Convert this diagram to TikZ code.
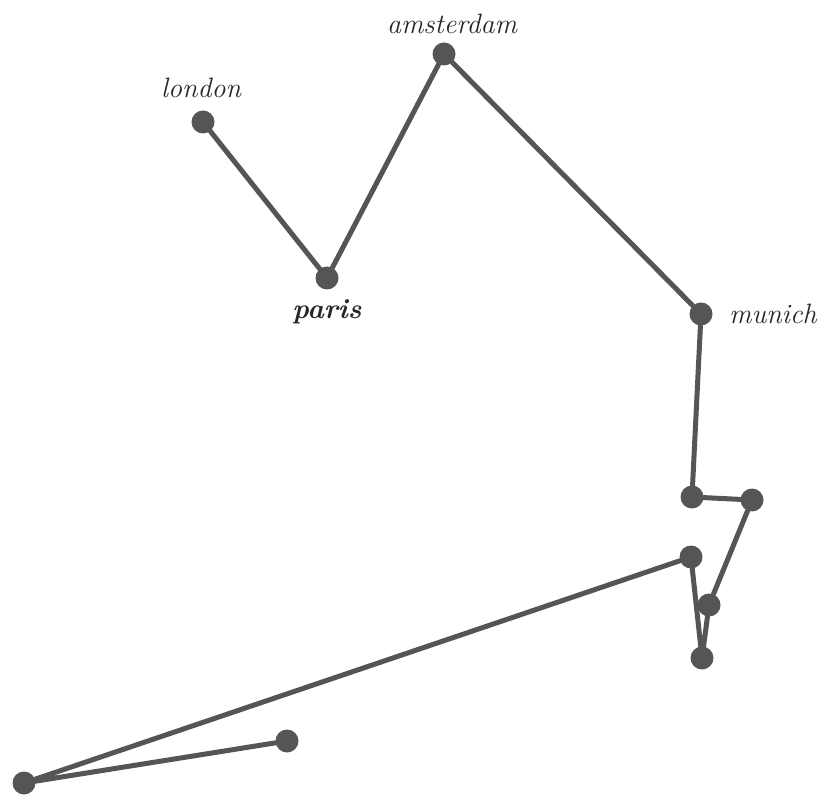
\documentclass[tikz,border=0pt]{standalone}
\begin{document}
\begin{tikzpicture}[x=1pt,y=-1pt,
  stop/.style={circle,fill=inkgray,inner sep=0pt,minimum size=23pt},
  route/.style={draw=inkgray,line width=5pt,line join=round,line cap=round},
  city/.style={font=\fontsize{28}{32}\selectfont\itshape,text=black!85,inner sep=0pt}]
\definecolor{inkgray}{HTML}{555555}
\useasboundingbox (0,0) rectangle (825,799);
% stops along the route
\node[stop] (london) at (203,122) {};
\node[stop] (paris) at (327,278) {};
\node[stop] (amsterdam) at (444,54) {};
\node[stop] (munich) at (701,314) {};
\node[stop] (s5) at (692,497) {};
\node[stop] (s6) at (752,500) {};
\node[stop] (s7) at (709,605) {};
\node[stop] (s8) at (702,658) {};
\node[stop] (s9) at (691,557) {};
\node[stop] (s10) at (24,783) {};
\node[stop] (s11) at (287,741) {};
% the route
\draw[route] (london) -- (paris) -- (amsterdam) -- (munich) -- (s5) -- (s6)
  -- (s7) -- (s8) -- (s9) -- (s10) -- (s11);
% city names
\node[city] (lLondon) at (201,88) {london};
\node[city,font=\fontsize{28}{32}\selectfont\bfseries\itshape] (lParis) at (327,312) {paris};
\node[city] (lAmsterdam) at (452,24) {amsterdam};
\node[city,anchor=west] (lMunich) at (729,314) {munich};
\end{tikzpicture}
\end{document}
